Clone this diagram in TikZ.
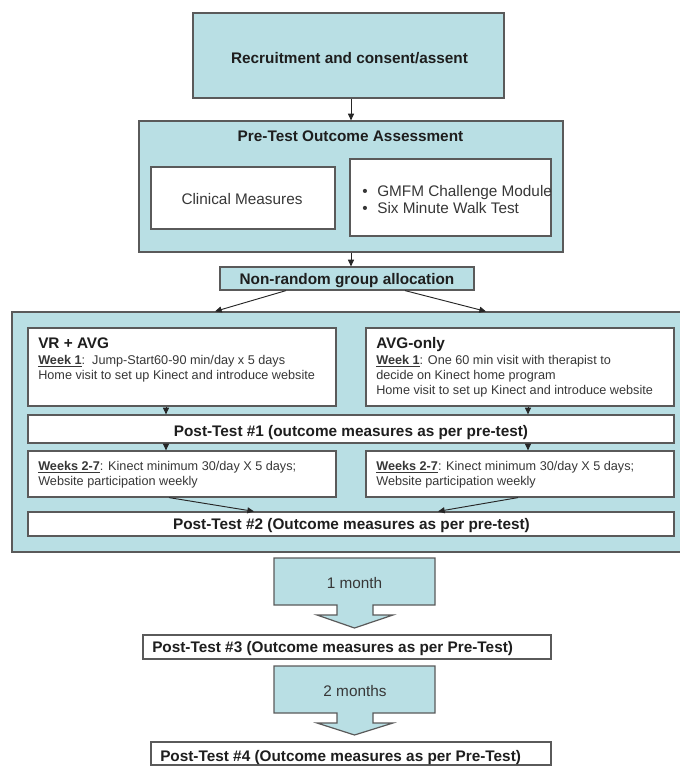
\documentclass[tikz,border=0pt]{standalone}
\usepackage{fontspec}
\setmainfont{Liberation Sans}
\usetikzlibrary{fit,calc,arrows.meta}
\definecolor{tealfill}{RGB}{185,223,228}
\definecolor{edge}{RGB}{90,90,90}
\definecolor{txt}{RGB}{55,55,55}
\definecolor{btxt}{RGB}{30,30,30}
\tikzset{
  tealbox/.style={draw=edge, fill=tealfill, line width=0.9pt, inner sep=0pt},
  whitebox/.style={draw=edge, fill=white, line width=0.9pt, inner sep=0pt},
  conn/.style={draw=black!85, line width=0.7pt, -{Triangle[length=5pt,width=4.5pt]}},
  bt/.style={font=\fontsize{11.5}{13}\selectfont\bfseries, text=btxt, inner sep=0pt, anchor=base},
  rt/.style={font=\fontsize{11.5}{13}\selectfont, text=txt, inner sep=0pt, anchor=base},
  st/.style={font=\fontsize{9.5}{11}\selectfont, text=txt, inner sep=0pt, anchor=base west},
  sbt/.style={font=\fontsize{11.5}{13}\selectfont\bfseries, text=btxt, inner sep=0pt, anchor=base west},
}
\newcommand{\wk}[1]{\underline{\textbf{#1}}}
\begin{document}
\begin{tikzpicture}[x=0.75pt,y=-0.75pt]
\useasboundingbox (0,0) rectangle (680,766);

% top boxes
\node[tealbox, fit={(193,13)(504,98)}] (rec) {};
\node[bt] (rect) at (349.5,63.5) {Recruitment and consent/assent};

\node[tealbox, fit={(139,121)(563,252)}] (pre) {};
\node[bt] (pret) at (350.5,141.5) {Pre-Test Outcome Assessment};
\node[whitebox, fit={(151,167)(335,229)}] (clin) {};
\node[rt] (clint) at (242,204.5) {Clinical Measures};
\node[whitebox, fit={(350,159)(551,236)}] (gmfm) {};
\node[rt, anchor=base west] (b1) at (362,196.5) {•};
\node[rt, anchor=base west] (g1) at (377,196.5) {GMFM Challenge Module};
\node[rt, anchor=base west] (b2) at (362,213.5) {•};
\node[rt, anchor=base west] (g2) at (377,213.5) {Six Minute Walk Test};

\node[tealbox, fit={(220,267)(474,290)}] (alloc) {};
\node[bt] (alloct) at (347,284.5) {Non-random group allocation};

% group container
\node[tealbox, fit={(12,312)(684,552)}] (grp) {};

\node[whitebox, fit={(28,328)(336,406)}] (vr) {};
\node[sbt] (vrt) at (38,348.5) {VR + AVG};
\node[st] (vr1) at (38,364.5) {\wk{Week 1}:\ \ Jump-Start60-90 min/day x 5 days};
\node[st] (vr2) at (38,379.5) {Home visit to set up Kinect and introduce website};

\node[whitebox, fit={(366,328)(674,406)}] (avg) {};
\node[sbt] (avgt) at (376,348.5) {AVG-only};
\node[st] (avg1) at (376,364.5) {\wk{Week 1}: One 60 min visit with therapist to};
\node[st] (avg2) at (376,379.5) {decide on Kinect home program};
\node[st] (avg3) at (376,394.5) {Home visit to set up Kinect and introduce website};

\node[whitebox, fit={(28,415)(674,443)}] (pt1) {};
\node[bt] (pt1t) at (351,436.5) {Post-Test \#1 (outcome measures as per pre-test)};

\node[whitebox, fit={(28,451)(336,497)}] (wl) {};
\node[st] (wl1) at (38,470.5) {\wk{Weeks 2-7}: Kinect minimum 30/day X 5 days;};
\node[st] (wl2) at (38,485.5) {Website participation weekly};

\node[whitebox, fit={(366,451)(674,497)}] (wr) {};
\node[st] (wr1) at (376,470.5) {\wk{Weeks 2-7}: Kinect minimum 30/day X 5 days;};
\node[st] (wr2) at (376,485.5) {Website participation weekly};

\node[whitebox, fit={(28,512)(674,536)}] (pt2) {};
\node[bt] (pt2t) at (351.5,529.5) {Post-Test \#2 (Outcome measures as per pre-test)};

% block arrow 1
\draw[tealbox] (274,558) -- (435,558) -- (435,605) -- (373,605) -- (373,615) -- (393,615)
  -- (354.5,628) -- (317,615) -- (337,615) -- (337,605) -- (274,605) -- cycle;
\node[rt] (m1) at (354.5,588.5) {1 month};

\node[whitebox, fit={(143,635)(551,659)}] (pt3) {};
\node[sbt] (pt3t) at (152,652.5) {Post-Test \#3 (Outcome measures as per Pre-Test)};

% block arrow 2
\draw[tealbox] (274,666) -- (435,666) -- (435,713) -- (373,713) -- (373,723) -- (393,723)
  -- (354.5,735) -- (317,723) -- (337,723) -- (337,713) -- (274,713) -- cycle;
\node[rt] (m2) at (355,696.5) {2 months};

\node[whitebox, fit={(151,742)(551,765)}] (pt4) {};
\node[sbt] (pt4t) at (160,761) {Post-Test \#4 (Outcome measures as per Pre-Test)};

% connectors
\draw[conn] ($(rec.south)+(2.5,0)$) -- (pre.north);
\draw[conn] (pre.south) -- ($(alloc.north)+(4,0)$);
\draw[conn] ($(alloc.south)+(-61,0)$) -- ($(grp.north)+(-133,0)$);
\draw[conn] ($(alloc.south)+(58,0)$) -- ($(grp.north)+(138,0)$);
\draw[conn] ($(vr.south)+(-16,0)$) -- ($(pt1.north)+(-185,0)$);
\draw[conn] ($(avg.south)+(8,0)$) -- ($(pt1.north)+(177,0)$);
\draw[conn] ($(pt1.south)+(-185,0)$) -- ($(wl.north)+(-16,0)$);
\draw[conn] ($(pt1.south)+(177,0)$) -- ($(wr.north)+(8,0)$);
\draw[conn] ($(wl.south)+(-13,0)$) -- ($(pt2.north)+(-97,0)$);
\draw[conn] ($(wr.south)+(-2,0)$) -- ($(pt2.north)+(87,0)$);
\end{tikzpicture}
\end{document}
